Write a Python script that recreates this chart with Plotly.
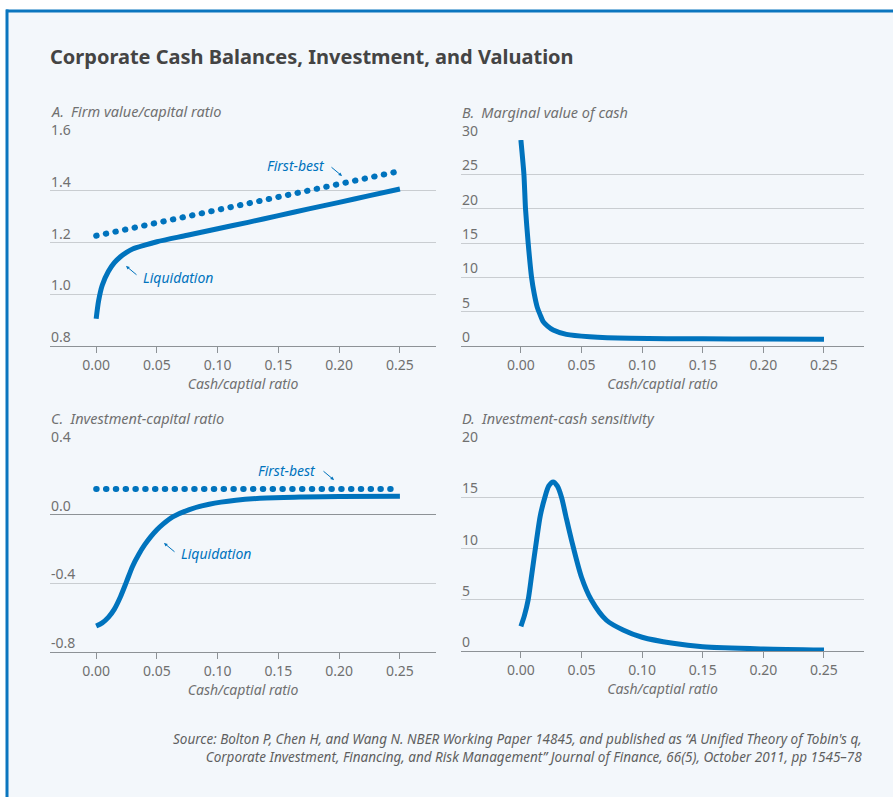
import plotly.graph_objects as go

# ---------------- data ----------------
cash_ticks = [0.0, 0.05, 0.10, 0.15, 0.20, 0.25]
cash_tick_labels = ["0.00", "0.05", "0.10", "0.15", "0.20", "0.25"]

# A. Firm value/capital ratio
a_x = [0, 0.002, 0.005, 0.01, 0.015, 0.02, 0.025, 0.03, 0.04, 0.05, 0.075, 0.1, 0.125, 0.15, 0.175, 0.2, 0.225, 0.25]
a_y = [0.905, 0.975, 1.035, 1.088, 1.122, 1.145, 1.162, 1.175, 1.19, 1.203, 1.228, 1.253, 1.278, 1.304, 1.33, 1.355, 1.381, 1.407]
a_fb_x = [0, 0.25]
a_fb_y = [1.226, 1.476]
a_ticks = [0.8, 1.0, 1.2, 1.4, 1.6]
a_tick_labels = ["0.8", "1.0", "1.2", "1.4", "1.6"]

# B. Marginal value of cash
b_x = [0, 0.0025, 0.0038, 0.006, 0.0088, 0.011, 0.0134, 0.016, 0.0184, 0.022, 0.0266, 0.0376, 0.0567, 0.09, 0.15, 0.2, 0.25]
b_y = [30, 25, 20, 15, 10, 7.6, 5.7, 4.5, 3.55, 2.9, 2.33, 1.7, 1.36, 1.12, 1.04, 1.01, 1.0]
b_ticks = [0, 5, 10, 15, 20, 25, 30]
b_tick_labels = ["0", "5", "10", "15", "20", "25", "30"]

# C. Investment-capital ratio
c_x = [0, 0.005, 0.010, 0.015, 0.020, 0.025, 0.030, 0.035, 0.040, 0.045, 0.050, 0.055, 0.063, 0.0767, 0.093, 0.115, 0.14, 0.17, 0.2, 0.25]
c_y = [-0.648, -0.630, -0.598, -0.550, -0.478, -0.39, -0.30, -0.232, -0.175, -0.128, -0.088, -0.055, -0.013, 0.030, 0.061, 0.084, 0.097, 0.103, 0.106, 0.108]
c_fb_x = [0, 0.25]
c_fb_y = [0.15, 0.15]
c_ticks = [-0.8, -0.4, 0.0, 0.4]
c_tick_labels = ["-0.8", "-0.4", "0.0", "0.4"]

# D. Investment-cash sensitivity
d_x = [0, 0.003, 0.006, 0.009, 0.0129, 0.016, 0.0198, 0.023, 0.0266, 0.030, 0.0335, 0.037, 0.0418, 0.05, 0.058, 0.0706, 0.0843, 0.1, 0.1255, 0.15, 0.2, 0.25]
d_y = [2.4, 3.5, 5.0, 7.5, 10.8, 13.2, 15.0, 16.1, 16.5, 16.1, 15.0, 13.2, 10.8, 7.2, 5.0, 3.0, 2.05, 1.34, 0.75, 0.42, 0.2, 0.1]
d_ticks = [0, 5, 10, 15, 20]
d_tick_labels = ["0", "5", "10", "15", "20"]

# ---------------- style ----------------
W, H = 893, 797
BLUE = "#0073bd"
BORDER = "#0b76bf"
BG = "#f3f7fb"
GRID = "#c9cdd1"
AXIS = "#8d9296"
TXT = "#707070"
FONT = "Noto Sans"


def px(x):
    return x / W


def py(y):
    return 1 - y / H


fig = go.Figure()

panels = [
    ("", (50, 436), (139, 346), [-0.038, 0.2797], [0.8, 1.6], a_ticks, a_tick_labels, "A.\u2002Firm value/capital ratio"),
    ("2", (461, 864), (140, 346), [-0.0494, 0.283], [0, 30], b_ticks, b_tick_labels, "B.\u2002Marginal value of cash"),
    ("3", (50, 436), (446, 652), [-0.038, 0.2797], [-0.8, 0.4], c_ticks, c_tick_labels, "C.\u2002Investment-capital ratio"),
    ("4", (461, 864), (446, 651), [-0.0494, 0.283], [0, 20], d_ticks, d_tick_labels, "D.\u2002Investment-cash sensitivity"),
]

series = [
    (a_x, a_y, a_fb_x, a_fb_y, 0.8),
    (b_x, b_y, None, None, 0.6),
    (c_x, c_y, c_fb_x, c_fb_y, 0.8),
    (d_x, d_y, None, None, 0.8),
]

annotations = []
for (sid, (x0, x1), (y0, y1), xr, yr, ticks, labels, title), (sx, sy, fx, fy, sm) in zip(panels, series):
    xa = "x" + sid
    ya = "y" + sid
    if fx is not None:
        fig.add_trace(go.Scatter(x=fx, y=fy, xaxis=xa, yaxis=ya, mode="lines",
                                 line=dict(color=BLUE, width=6, dash="0.5px,9.3px"),
                                 hoverinfo="skip", showlegend=False))
    fig.add_trace(go.Scatter(x=sx, y=sy, xaxis=xa, yaxis=ya, mode="lines",
                             line=dict(color=BLUE, width=5, shape="spline", smoothing=sm),
                             hoverinfo="skip", showlegend=False, cliponaxis=True))
    fig.layout["xaxis" + sid] = dict(
        domain=[px(x0), px(x1)], range=xr, anchor=ya,
        tickvals=cash_ticks, ticktext=cash_tick_labels,
        ticks="outside", ticklen=6, tickcolor=AXIS, tickwidth=1,
        showgrid=False, zeroline=False, showline=True, linecolor=AXIS, linewidth=1,
        tickfont=dict(family=FONT, size=14, color=TXT),
        title=dict(text="<i>Cash/captial ratio</i>", font=dict(family=FONT, size=14, color=TXT), standoff=4),
        fixedrange=True,
    )
    fig.layout["yaxis" + sid] = dict(
        domain=[py(y1), py(y0)], range=yr, anchor=xa,
        tickvals=ticks, showticklabels=False, ticks="",
        showgrid=True, gridcolor=GRID, gridwidth=1,
        zeroline=True, zerolinecolor=AXIS, zerolinewidth=1,
        showline=False, fixedrange=True,
    )
    for v, lab in zip(ticks, labels):
        annotations.append(dict(text=lab, xref="paper", x=px(x0 - 1), xanchor="left",
                                yref=ya, y=v, yanchor="bottom", yshift=-2, showarrow=False,
                                font=dict(family=FONT, size=14, color=TXT)))
    annotations.append(dict(text="<i>" + title + "</i>", xref="paper", yref="paper",
                            x=px(x0 - 1), y=py(y0 - 28), xanchor="left", yanchor="middle",
                            showarrow=False, font=dict(family=FONT, size=14.5, color=TXT)))

# callout labels
lab_font = dict(family=FONT, size=14, color=BLUE)
callouts = [
    ("First-best", 296, 165, "center", (342, 176), -12, -10),
    ("Liquidation", 141, 277, "left", (126, 266), 12, 10),
    ("First-best", 287, 470, "center", (334, 480), -12, -10),
    ("Liquidation", 179, 553, "left", (164, 543), 12, 10),
]
for text, tx, ty, anc, (hx, hy), ax, ay in callouts:
    annotations.append(dict(text="<i>" + text + "</i>", xref="paper", yref="paper",
                            x=px(tx), y=py(ty), xanchor=anc, yanchor="middle",
                            showarrow=False, font=lab_font))
    annotations.append(dict(text="", xref="paper", yref="paper", x=px(hx), y=py(hy),
                            ax=ax, ay=ay, showarrow=True, arrowhead=2, arrowsize=0.7,
                            arrowwidth=1, arrowcolor=BLUE))

# title
annotations.append(dict(text="<b>Corporate Cash Balances, Investment, and Valuation</b>",
                        xref="paper", yref="paper", x=px(48), y=py(57), xanchor="left",
                        yanchor="middle", showarrow=False,
                        font=dict(family=FONT, size=20, color="#444444")))
# source (two lines, right aligned)
source_lines = [
    "Source: Bolton P, Chen H, and Wang N. NBER Working Paper 14845, and published as \u201cA Unified Theory of Tobin's q,",
    "Corporate Investment, Financing, and Risk Management\u201d Journal of Finance, 66(5), October 2011, pp 1545\u201378",
]
annotations.append(dict(
    text="<i>" + "<br>".join(source_lines) + "</i>",
    xref="paper", yref="paper", x=px(864), y=py(748), xanchor="right", yanchor="middle",
    align="right", showarrow=False, font=dict(family=FONT, size=13.5, color="#5f5f5f")))

shapes = [
    dict(type="rect", xref="paper", yref="paper", x0=px(6), x1=1.01, y0=-0.01, y1=py(10),
         fillcolor=BG, line=dict(width=0), layer="below"),
    dict(type="line", xref="paper", yref="paper", x0=px(6), x1=1.01, y0=py(11), y1=py(11),
         line=dict(color=BORDER, width=3), layer="below"),
    dict(type="line", xref="paper", yref="paper", x0=px(7), x1=px(7), y0=-0.01, y1=py(9.5),
         line=dict(color=BORDER, width=3), layer="below"),
]

fig.update_layout(
    width=W, height=H, margin=dict(l=0, r=0, t=0, b=0),
    paper_bgcolor="white", plot_bgcolor="rgba(0,0,0,0)",
    annotations=annotations, shapes=shapes, showlegend=False,
    font=dict(family=FONT),
)

post = """
document.body.style.margin = '0';
document.body.style.padding = '0';
var gd = document.getElementById('{plot_id}');
function fixCaps(){
  document.querySelectorAll('path.js-line').forEach(function(p){
    var d = p.style.strokeDasharray;
    if (d && d !== 'none' && d !== '') { p.style.strokeLinecap = 'round'; }
  });
}
fixCaps();
if (gd && gd.on) { gd.on('plotly_afterplot', fixCaps); }
"""

fig.write_html("out.html", config={"displayModeBar": False, "staticPlot": True}, post_script=post)
